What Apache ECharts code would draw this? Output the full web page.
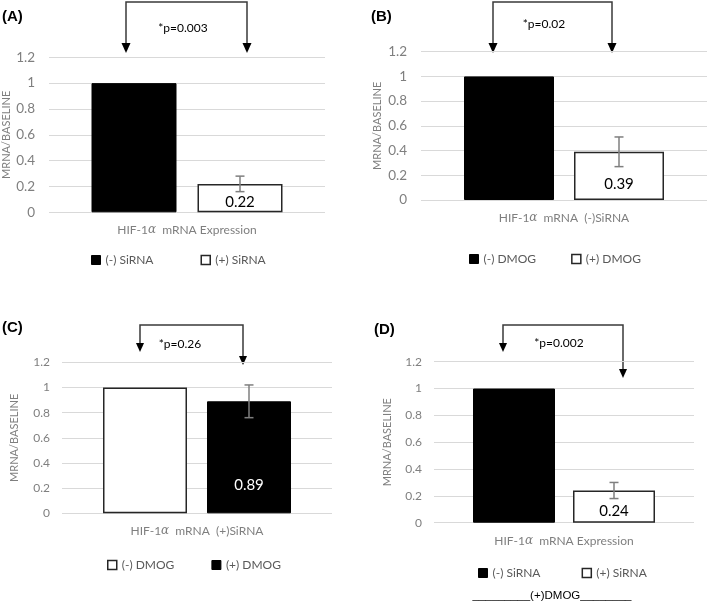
<!DOCTYPE html>
<html><head><meta charset="utf-8">
<script src="https://cdn.jsdelivr.net/npm/echarts@6/dist/echarts.min.js"></script>
<style>html,body{margin:0;padding:0;background:#fff}#c{width:709px;height:614px}</style>
</head><body><div id="c"></div>
<script>
// ---- data ----
const catA = ['HIF-1α  mRNA Expression'];
const catB = ['HIF-1α  mRNA  (-)SiRNA'];
const catC = ['HIF-1α  mRNA  (+)SiRNA'];
const catD = ['HIF-1α  mRNA Expression'];
const legendA = ['(-) SiRNA', '(+) SiRNA'];
const legendB = ['(-) DMOG', '(+) DMOG'];
const legendC = ['(-) DMOG ', '(+) DMOG '];
const legendD = ['(-) SiRNA ', '(+) SiRNA '];
const aNeg = [1], aPos = [0.22], aErr = [0.06];
const bNeg = [1], bPos = [0.39], bErr = [0.12];
const cNeg = [1], cPos = [0.89], cErr = [0.13];
const dNeg = [1], dPos = [0.24], dErr = [0.06];
const pA = '*p=0.003', pB = '*p=0.02', pC = '*p=0.26', pD = '*p=0.002';
const yMin = 0, yMax = 1.2, yStep = 0.2;

// ---- layout / style ----
const FONT = 'Lato, "Open Sans", sans-serif';
const GRAY = '#7f7f7f';
const panels = [
  {cat: catA, leg: legendA, neg: aNeg, pos: aPos, err: aErr, negBlack: true,
   grid: {left: 49, top: 57.3, width: 276, height: 155}, bw: 85, gap: 21,
   yFont: 13.5, yMargin: 14, nameGap: 37, lblDist: 3,
   legend: {left: 86, top: 249, itemGap: 47}},
  {cat: catB, leg: legendB, neg: bNeg, pos: bPos, err: bErr, negBlack: true,
   grid: {left: 421, top: 51.7, width: 286, height: 148.3}, bw: 90, gap: 20,
   yFont: 13.5, yMargin: 14, nameGap: 38, lblDist: 8,
   legend: {left: 464, top: 248, itemGap: 35}},
  {cat: catC, leg: legendC, neg: cNeg, pos: cPos, err: cErr, negBlack: false,
   grid: {left: 62, top: 362.3, width: 270, height: 151}, bw: 84, gap: 20,
   yFont: 12, yMargin: 12, nameGap: 42, lblDist: 21,
   legend: {left: 102, top: 554, itemGap: 34}},
  {cat: catD, leg: legendD, neg: dNeg, pos: dPos, err: dErr, negBlack: true,
   grid: {left: 434, top: 361.7, width: 260, height: 161}, bw: 82, gap: 18,
   yFont: 12, yMargin: 12, nameGap: 41, lblDist: 4,
   legend: {left: 473, top: 562, itemGap: 38}}
];

const blackStyle = {color: '#000', borderColor: '#000', borderWidth: 1};
const whiteStyle = {color: '#fff', borderColor: '#262626', borderWidth: 1.5};

const grids = [], xAxes = [], yAxes = [], series = [], legends = [];
panels.forEach((p, i) => {
  grids.push(p.grid);
  xAxes.push({
    type: 'category', gridIndex: i, data: p.cat,
    axisLine: {show: false}, axisTick: {show: false},
    axisLabel: {
      margin: 12,
      formatter: v => {
        const k = v.indexOf('α');
        return '{t|' + v.slice(0, k) + '}{g|α}{t|' + v.slice(k + 1) + '}';
      },
      rich: {
        t: {fontFamily: FONT, fontSize: 12, color: GRAY},
        g: {fontFamily: 'DejaVu Serif, serif', fontStyle: 'italic', fontSize: 12, color: GRAY}
      }
    }
  });
  yAxes.push({
    type: 'value', gridIndex: i, min: yMin, max: yMax, interval: yStep,
    name: 'MRNA/BASELINE', nameLocation: 'middle', nameRotate: 90, nameGap: p.nameGap,
    nameTextStyle: {fontFamily: FONT, fontSize: 11, color: GRAY},
    axisLine: {show: false}, axisTick: {show: false},
    axisLabel: {fontFamily: FONT, fontSize: p.yFont, color: GRAY, margin: p.yMargin},
    splitLine: {lineStyle: {color: '#d9d9d9', width: 1}}
  });
  const negStyle = p.negBlack ? blackStyle : whiteStyle;
  const posStyle = p.negBlack ? whiteStyle : blackStyle;
  series.push({
    type: 'bar', name: p.leg[0], xAxisIndex: i, yAxisIndex: i, data: p.neg,
    barWidth: p.bw, barGap: (p.gap / p.bw * 100) + '%', itemStyle: negStyle,
    silent: true
  });
  series.push({
    type: 'bar', name: p.leg[1], xAxisIndex: i, yAxisIndex: i, data: p.pos,
    barWidth: p.bw, itemStyle: posStyle, silent: true,
    label: {show: true, position: 'insideBottom', distance: p.lblDist,
      fontFamily: FONT, fontSize: 15, color: p.negBlack ? '#000' : '#fff'}
  });
  const off = (p.bw + p.gap) / 2;
  series.push({
    type: 'custom', xAxisIndex: i, yAxisIndex: i, silent: true,
    data: p.pos.map((v, j) => [j, v - p.err[j], v + p.err[j]]),
    renderItem: (params, api) => {
      const lo = api.coord([api.value(0), api.value(1)]);
      const hi = api.coord([api.value(0), api.value(2)]);
      const x = lo[0] + off, w = 4.5;
      const st = {stroke: GRAY, lineWidth: 1.5};
      return {type: 'group', children: [
        {type: 'line', shape: {x1: x, y1: lo[1], x2: x, y2: hi[1]}, style: st},
        {type: 'line', shape: {x1: x - w, y1: lo[1], x2: x + w, y2: lo[1]}, style: st},
        {type: 'line', shape: {x1: x - w, y1: hi[1], x2: x + w, y2: hi[1]}, style: st}
      ]};
    },
    z: 5
  });
  legends.push({
    left: p.legend.left, top: p.legend.top, itemGap: p.legend.itemGap,
    itemWidth: 9, itemHeight: 9, icon: 'rect', selectedMode: false,
    textStyle: {fontFamily: FONT, fontSize: 12, color: '#595959'},
    data: [
      {name: p.leg[0], itemStyle: negStyle},
      {name: p.leg[1], itemStyle: posStyle}
    ]
  });
});

// ---- annotations ----
function bracket(x1, x2, yTop, e1, e2, hw, hh) {
  const c = '#3a3a3a';
  return [
    {type: 'polyline', shape: {points: [[x1, e1 - hh], [x1, yTop], [x2, yTop], [x2, e2 - hh]]},
     style: {stroke: c, lineWidth: 1.5, fill: null}},
    {type: 'polygon', shape: {points: [[x1 - hw, e1 - hh], [x1 + hw, e1 - hh], [x1, e1]]}, style: {fill: '#000'}},
    {type: 'polygon', shape: {points: [[x2 - hw, e2 - hh], [x2 + hw, e2 - hh], [x2, e2]]}, style: {fill: '#000'}}
  ];
}
function txt(x, y, s, font, align) {
  return {type: 'text', x: x, y: y,
    style: {text: s, font: font, fill: '#000', align: align || 'center', verticalAlign: 'middle'}};
}
const graphics = [].concat(
  bracket(126, 247, 2, 53, 53, 4.5, 10),
  bracket(493, 612, 2, 53, 53, 4.5, 10),
  bracket(140, 243, 325, 352, 365, 4, 9),
  bracket(503, 623, 325, 352, 378, 4, 9),
  [
    txt(183, 28, pA, '12px ' + FONT),
    txt(544, 24, pB, '12px ' + FONT),
    txt(180, 344, pC, '12px ' + FONT),
    txt(559, 343, pD, '12px ' + FONT),
    txt(2, 17, '(A)', 'bold 15px "Liberation Sans", Arial, sans-serif', 'left'),
    txt(371, 17, '(B)', 'bold 15px "Liberation Sans", Arial, sans-serif', 'left'),
    txt(2, 328, '(C)', 'bold 15px "Liberation Sans", Arial, sans-serif', 'left'),
    txt(374, 330, '(D)', 'bold 15px "Liberation Sans", Arial, sans-serif', 'left'),
    txt(552, 596, '_________(+)DMOG________', '11.5px "Liberation Sans", Arial, sans-serif')
  ]
);

const chart = echarts.init(document.getElementById('c'), null, {renderer: 'canvas'});
chart.setOption({
  animation: false,
  grid: grids, xAxis: xAxes, yAxis: yAxes, series: series, legend: legends,
  graphic: graphics
});
</script></body></html>
